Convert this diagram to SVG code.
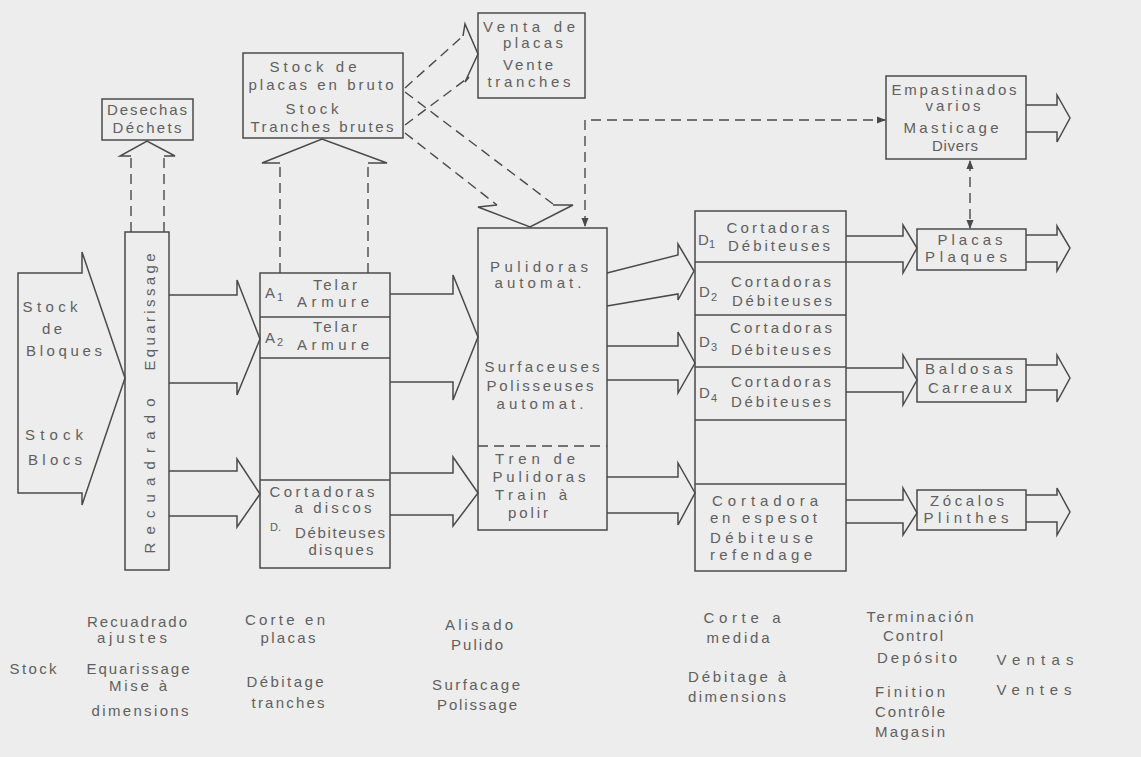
<svg xmlns="http://www.w3.org/2000/svg" width="1141" height="757" viewBox="0 0 1141 757">
<defs>
<style>
.bg{fill:#ededed}
.box{fill:none;stroke:#4a4a4a;stroke-width:1.5}
.ln{fill:none;stroke:#4a4a4a;stroke-width:1.5;stroke-linejoin:miter}
.dash{fill:none;stroke:#4a4a4a;stroke-width:1.4;stroke-dasharray:10 6}
text{font-family:"Liberation Sans","DejaVu Sans",Arial,sans-serif;font-size:15px;fill:#606060}
.m{text-anchor:middle}
.sub{font-size:11px}
</style>
<marker id="ah" viewBox="0 0 10 10" refX="9" refY="5" markerWidth="9" markerHeight="9" markerUnits="userSpaceOnUse" orient="auto-start-reverse">
<path d="M0,1 L10,5 L0,9 Z" fill="#4a4a4a"/>
</marker>
</defs>
<rect class="bg" x="0" y="0" width="1141" height="757"/>

<g id="connectors">
<path class="ln" d="M18,273 L82,273 L82,252 L125,378 L82,505 L82,493 L18,493 Z"/>
<path class="ln" d="M169,295 L237,295 L237,280 L260,339 L237,395 L237,383 L169,383"/>
<path class="ln" d="M169,471 L237,471 L237,459 L260,494 L237,527 L237,516 L169,516"/>
<path class="ln" d="M390,294 L453,294 L453,275 L478,337 L453,400 L453,382 L390,382"/>
<path class="ln" d="M390,473 L453,473 L453,457 L478,493 L453,526 L453,515 L390,515"/>
<path class="ln" d="M607,273 L678,255 L678,244 L694,271 L678,300 L678,294 L607,306"/>
<path class="ln" d="M607,346 L678,346 L678,332 L695,363 L678,393 L678,380 L607,380"/>
<path class="ln" d="M607,477 L678,477 L678,463 L695,493 L678,525 L678,513 L607,513"/>
<path class="ln" d="M846,236 L903,236 L903,225 L917,248 L903,273 L903,262 L846,262"/>
<path class="ln" d="M846,368 L903,368 L903,355 L917,380 L903,405 L903,392 L846,392"/>
<path class="ln" d="M846,500 L903,500 L903,488 L917,513 L903,535 L903,523 L846,523"/>
<path class="ln" d="M1026,105 L1057,105 L1057,95 L1070,118 L1057,142 L1057,132 L1026,132"/>
<path class="ln" d="M1026,235 L1057,235 L1057,226 L1070,248 L1057,271 L1057,262 L1026,262"/>
<path class="ln" d="M1026,365 L1057,365 L1057,355 L1070,378 L1057,402 L1057,390 L1026,390"/>
<path class="ln" d="M1026,495 L1057,495 L1057,488 L1070,512 L1057,535 L1057,522 L1026,522"/>
<path class="dash" d="M131,232 L131,158 M164,232 L164,158"/>
<path class="ln" d="M131,156 L120,156 L147,141 L175,156 L164,156"/>
<path class="dash" d="M280,273 L280,166 M368,273 L368,166"/>
<path class="ln" d="M280,163 L262,163 L322,139 L387,163 L368,163"/>
<path class="dash" d="M405,88 L463,36 M405,125 L469,77"/>
<path class="ln" d="M463,36 L465,24 L478,54 L465,82 L469,77"/>
<path class="dash" d="M405,92 L553,204 M405,133 L497,205"/>
<path class="ln" d="M497,205 L478,207 L530,227 L573,205 L553,205"/>
<path class="dash" d="M585,226 L585,120 L885,120" marker-start="url(#ah)" marker-end="url(#ah)"/>
<path class="dash" d="M970,161 L970,228" marker-start="url(#ah)" marker-end="url(#ah)"/>
</g>

<g id="stock">
<text x="50" y="312" class="m" textLength="55">Stock</text>
<text x="52" y="334" class="m" textLength="20">de</text>
<text x="64" y="356" class="m" textLength="76">Bloques</text>
<text x="54" y="440" class="m" textLength="58">Stock</text>
<text x="55" y="465" class="m" textLength="54">Blocs</text>
</g>

<g id="equarissage">
<rect class="box" x="125" y="232" width="44" height="338"/>
<text class="m" transform="translate(155,312) rotate(-90)" textLength="117">Equarissage</text>
<text class="m" transform="translate(155,476) rotate(-90)" textLength="155">Recuadrado</text>
</g>

<g id="desechas">
<rect class="box" x="102" y="99" width="91" height="41"/>
<text x="147" y="115" class="m" textLength="80">Desechas</text>
<text x="147" y="133" class="m" textLength="69">Déchets</text>
</g>

<g id="stock-placas">
<rect class="box" x="243" y="53" width="160" height="85"/>
<text x="313" y="72" class="m" textLength="87">Stock de</text>
<text x="321" y="90" class="m" textLength="145">placas en bruto</text>
<text x="312" y="114" class="m" textLength="53">Stock</text>
<text x="322" y="132" class="m" textLength="143">Tranches brutes</text>
</g>

<g id="venta">
<rect class="box" x="478" y="13" width="107" height="85"/>
<text x="529" y="32" class="m" textLength="92">Venta de</text>
<text x="533" y="48" class="m" textLength="60">placas</text>
<text x="528" y="70" class="m" textLength="50">Vente</text>
<text x="529" y="87" class="m" textLength="83">tranches</text>
</g>

<g id="telar">
<rect class="box" x="260" y="273" width="130" height="295"/>
<line class="box" x1="260" y1="317" x2="390" y2="317"/>
<line class="box" x1="260" y1="358" x2="390" y2="358"/>
<line class="box" x1="260" y1="480" x2="390" y2="480"/>
<text x="265" y="298">A</text><text x="277" y="301" class="sub">1</text>
<text x="335" y="290" class="m" textLength="44">Telar</text>
<text x="333" y="307" class="m" textLength="72">Armure</text>
<text x="265" y="343">A</text><text x="277" y="346" class="sub">2</text>
<text x="335" y="332" class="m" textLength="44">Telar</text>
<text x="333" y="350" class="m" textLength="72">Armure</text>
<text x="322" y="497" class="m" textLength="105">Cortadoras</text>
<text x="333" y="513" class="m" textLength="77">a discos</text>
<text x="270" y="531" class="sub">D.</text>
<text x="340" y="538" class="m" textLength="90">Débiteuses</text>
<text x="341" y="555" class="m" textLength="65">disques</text>
</g>

<g id="pulidoras">
<rect class="box" x="478" y="228" width="129" height="302"/>
<line class="dash" x1="478" y1="446" x2="607" y2="446"/>
<text x="539" y="272" class="m" textLength="98">Pulidoras</text>
<text x="538" y="288" class="m" textLength="87">automat.</text>
<text x="542" y="372" class="m" textLength="115">Surfaceuses</text>
<text x="540" y="391" class="m" textLength="107">Polisseuses</text>
<text x="540" y="409" class="m" textLength="87">automat.</text>
<text x="535" y="464" class="m" textLength="80">Tren de</text>
<text x="539" y="482" class="m" textLength="93">Pulidoras</text>
<text x="531" y="500" class="m" textLength="72">Train à</text>
<text x="528" y="518" class="m" textLength="40">polir</text>
</g>

<g id="cortadoras">
<rect class="box" x="695" y="211" width="151" height="360"/>
<line class="box" x1="695" y1="262" x2="846" y2="262"/>
<line class="box" x1="695" y1="315" x2="846" y2="315"/>
<line class="box" x1="695" y1="367" x2="846" y2="367"/>
<line class="box" x1="695" y1="420" x2="846" y2="420"/>
<line class="box" x1="695" y1="484" x2="846" y2="484"/>
<text x="698" y="245">D</text><text x="709" y="248" class="sub">1</text>
<text x="778" y="233" class="m" textLength="103">Cortadoras</text>
<text x="779" y="251" class="m" textLength="102">Débiteuses</text>
<text x="699" y="297">D</text><text x="711" y="301" class="sub">2</text>
<text x="781" y="287" class="m" textLength="100">Cortadoras</text>
<text x="782" y="306" class="m" textLength="100">Débiteuses</text>
<text x="699" y="347">D</text><text x="711" y="351" class="sub">3</text>
<text x="781" y="333" class="m" textLength="102">Cortadoras</text>
<text x="781" y="355" class="m" textLength="100">Débiteuses</text>
<text x="699" y="398">D</text><text x="711" y="402" class="sub">4</text>
<text x="781" y="387" class="m" textLength="100">Cortadoras</text>
<text x="781" y="407" class="m" textLength="100">Débiteuses</text>
<text x="712" y="506" textLength="106">Cortadora</text>
<text x="710" y="523" textLength="107">en espesot</text>
<text x="710" y="543" textLength="103">Débiteuse</text>
<text x="710" y="560" textLength="102">refendage</text>
</g>

<g id="empastinados">
<rect class="box" x="886" y="76" width="140" height="83"/>
<text x="954" y="95" class="m" textLength="125">Empastinados</text>
<text x="953" y="111" class="m" textLength="55">varios</text>
<text x="951" y="133" class="m" textLength="95">Masticage</text>
<text x="955" y="151" class="m" textLength="46">Divers</text>
</g>

<g id="placas">
<rect class="box" x="917" y="229" width="109" height="41"/>
<text x="970" y="245" class="m" textLength="65">Placas</text>
<text x="966" y="262" class="m" textLength="82">Plaques</text>
</g>

<g id="baldosas">
<rect class="box" x="917" y="359" width="109" height="43"/>
<text x="969" y="374" class="m" textLength="88">Baldosas</text>
<text x="970" y="393" class="m" textLength="84">Carreaux</text>
</g>

<g id="zocalos">
<rect class="box" x="917" y="490" width="109" height="40"/>
<text x="967" y="506" class="m" textLength="74">Zócalos</text>
<text x="966" y="523" class="m" textLength="85">Plinthes</text>
</g>

<g id="labels">
<text x="33" y="674" class="m" textLength="47">Stock</text>
<text x="137" y="627" class="m" textLength="100">Recuadrado</text>
<text x="132" y="643" class="m" textLength="70">ajustes</text>
<text x="138" y="674" class="m" textLength="103">Equarissage</text>
<text x="138" y="691" class="m" textLength="58">Mise à</text>
<text x="140" y="716" class="m" textLength="97">dimensions</text>
<text x="285" y="625" class="m" textLength="80">Corte en</text>
<text x="288" y="643" class="m" textLength="55">placas</text>
<text x="285" y="687" class="m" textLength="77">Débitage</text>
<text x="288" y="708" class="m" textLength="73">tranches</text>
<text x="479" y="630" class="m" textLength="68">Alisado</text>
<text x="477" y="650" class="m" textLength="52">Pulido</text>
<text x="476" y="690" class="m" textLength="88">Surfacage</text>
<text x="477" y="710" class="m" textLength="80">Polissage</text>
<text x="742" y="623" class="m" textLength="77">Corte a</text>
<text x="738" y="643" class="m" textLength="63">medida</text>
<text x="737" y="682" class="m" textLength="98">Débitage à</text>
<text x="737" y="702" class="m" textLength="98">dimensions</text>
<text x="920" y="622" class="m" textLength="107">Terminación</text>
<text x="913" y="641" class="m" textLength="60">Control</text>
<text x="917" y="663" class="m" textLength="80">Depósito</text>
<text x="910" y="697" class="m" textLength="70">Finition</text>
<text x="910" y="717" class="m" textLength="70">Contrôle</text>
<text x="910" y="737" class="m" textLength="70">Magasin</text>
<text x="1035" y="665" class="m" textLength="77">Ventas</text>
<text x="1034" y="695" class="m" textLength="75">Ventes</text>
</g>
</svg>
